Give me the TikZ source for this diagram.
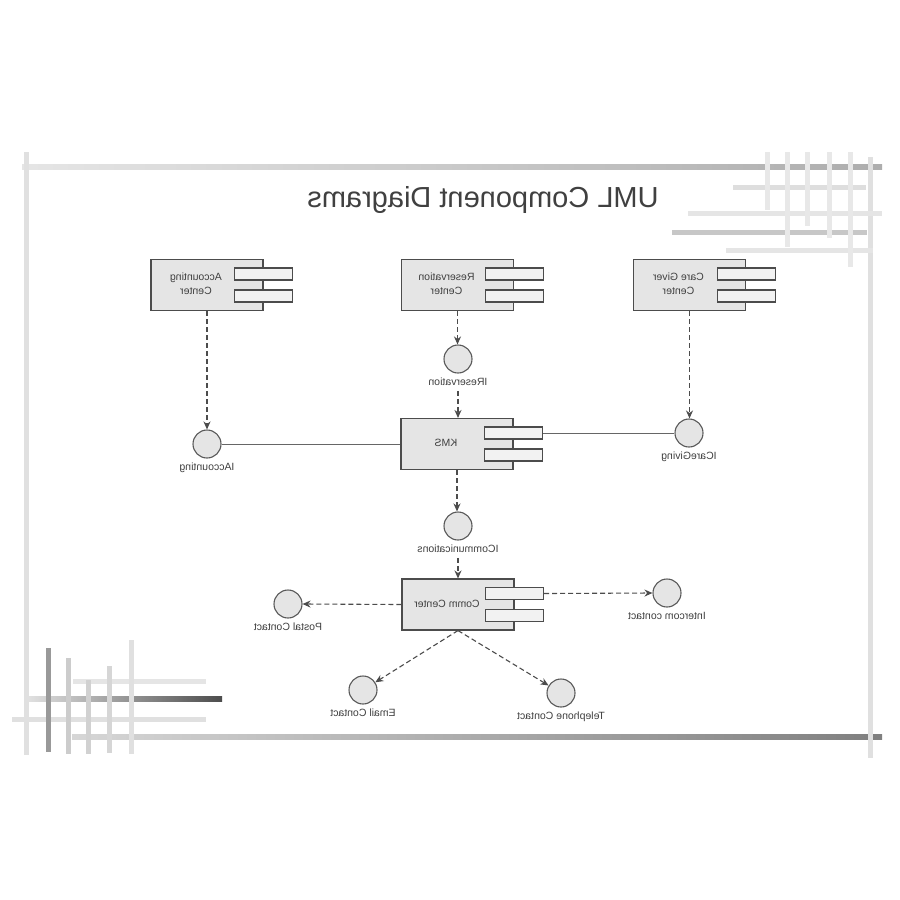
\documentclass[tikz,border=0pt]{standalone}
\usepackage{fontspec}
\setsansfont{Liberation Sans}
\usetikzlibrary{positioning,arrows.meta}
\newcommand{\mirror}[1]{\reflectbox{\begin{tabular}{@{}c@{}}#1\end{tabular}}}
\newcommand{\component}[4]{%
  \node (#1) [comp] at (#2,#3) {};
  \node (#1-p1) [port, yshift=11pt] at (#1.east) {};
  \node (#1-p2) [port, yshift=-11pt] at (#1.east) {};
  \node (#1-t) [lbl, xshift=-11pt] at (#1.center) {\mirror{#4}};
}

\begin{document}
\begin{tikzpicture}[x=1pt,y=-1pt,
    comp/.style={draw=black!70, fill=black!10, line width=1.1pt, minimum width=112pt, minimum height=51pt, inner sep=0pt},
    port/.style={draw=black!70, fill=black!5, line width=1.1pt, minimum width=58pt, minimum height=12pt, inner sep=0pt},
    iface/.style={circle, draw=black!65, fill=black!10, line width=1.1pt, minimum size=28pt, inner sep=0pt},
    lbl/.style={font=\sffamily\fontsize{10.5}{14}\selectfont, text=black!75, inner sep=1pt},
    dep/.style={dash pattern=on 5pt off 3pt, line width=1.1pt, draw=black!70, -{Stealth[length=8pt,width=7pt]}},
    assoc/.style={line width=1pt, draw=black!60},
    deco/.style={line width=5pt}]
  \useasboundingbox[fill=white] (0,0) rectangle (900,900);

  % frame and corner lines
  \shade[left color=black!10, right color=black!32] (22,164.5) rectangle (882,169.5);
  \shade[left color=black!16, right color=black!50] (72,734.5) rectangle (882,739.5);
  \draw[deco, black!12] (26,152) -- (26,755);
  \draw[deco, black!12] (870,157) -- (870,758);
  \draw[deco, black!13] (733,187) -- (866,187);
  \draw[deco, black!10] (688,213) -- (882,213);
  \draw[deco, black!22] (672,232) -- (867,232);
  \draw[deco, black!10] (726,250) -- (873,250);
  \foreach \x/\y in {767/210, 787/247, 807/226, 829/238, 850/267}
    \draw[deco, black!9] (\x,152) -- (\x,\y);
  \draw[deco, black!10] (73,681) -- (206,681);
  \shade[left color=black!12, right color=black!70] (28,696.5) rectangle (222,701.5);
  \draw[deco, black!12] (12,719) -- (206,719);
  \draw[deco, black!40] (48,648) -- (48,752);
  \draw[deco, black!20] (68,658) -- (68,754);
  \draw[deco, black!18] (88,680) -- (88,754);
  \draw[deco, black!16] (109,666) -- (109,753);
  \draw[deco, black!12] (131,640) -- (131,754);

  % title
  \node (title) [font=\sffamily\fontsize{29}{34}\selectfont, text=black!75] at (483,200) {\reflectbox{UML Component Diagrams}};

  % components
  \component{acct}{207}{285}{Accounting\\Center}
  \component{resv}{457.5}{285}{Reservation\\Center}
  \component{care}{689.5}{285}{Care Giver\\Center}
  \component{kms}{457}{444}{KMS}
  \component{comm}{458}{604.5}{Comm Center}

  % interfaces
  \node (iacct) [iface] at (207,444) {};
  \node (iacct-l) [lbl, below=1pt of iacct] {\mirror{IAccounting}};
  \node (iresv) [iface] at (458,359) {};
  \node (iresv-l) [lbl, below=1pt of iresv] {\mirror{IReservation}};
  \node (icare) [iface] at (689,433) {};
  \node (icare-l) [lbl, below=1pt of icare] {\mirror{ICareGiving}};
  \node (icomm) [iface] at (458,526) {};
  \node (icomm-l) [lbl, below=1pt of icomm] {\mirror{ICommunications}};
  \node (iinter) [iface] at (667,593) {};
  \node (iinter-l) [lbl, below=1pt of iinter] {\mirror{Intercom contact}};
  \node (ipost) [iface] at (288,604) {};
  \node (ipost-l) [lbl, below=1pt of ipost] {\mirror{Postal Contact}};
  \node (iemail) [iface] at (363,690) {};
  \node (iemail-l) [lbl, below=1pt of iemail] {\mirror{Email Contact}};
  \node (itel) [iface] at (561,693) {};
  \node (itel-l) [lbl, below=1pt of itel] {\mirror{Telephone Contact}};

  % connectors
  \draw[dep] (acct.south) -- (iacct.north);
  \draw[dep] (resv.south) -- (resv.south |- iresv.north);
  \draw[dep] (iresv-l.south) -- (iresv-l.south |- kms.north);
  \draw[dep] (care.south) -- (care.south |- icare.north);
  \draw[assoc] (iacct.east) -- (kms.west);
  \draw[assoc] (kms-p1.east) -- (icare.west);
  \draw[dep] (kms.south) -- (kms.south |- icomm.north);
  \draw[dep] (icomm-l.south) -- (icomm-l.south |- comm.north);
  \draw[dep] (comm-p1.east) -- (iinter.west);
  \draw[dep] (comm.west) -- (ipost.east);
  \draw[dep] (comm.south) -- (iemail);
  \draw[dep] (comm.south) -- (itel);
\end{tikzpicture}
\end{document}
